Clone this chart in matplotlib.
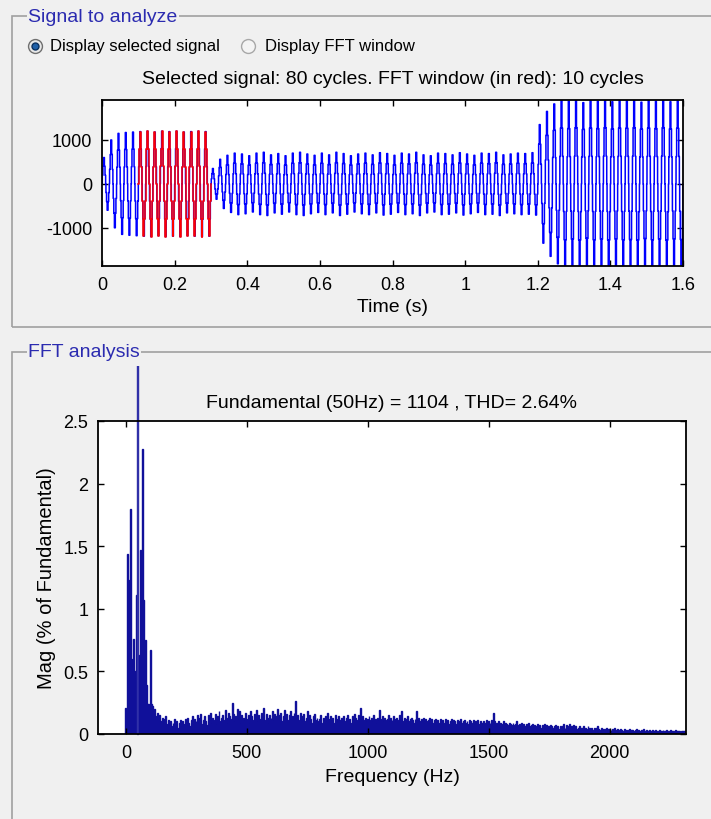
#set up modules
import numpy as np
import matplotlib
matplotlib.use('Agg')
import matplotlib.pyplot as plt
from matplotlib.patches import Rectangle
from matplotlib.lines import Line2D
from matplotlib.ticker import FormatStrFormatter
from matplotlib.transforms import Bbox, TransformedBbox

#----data----
#peak value of each of the 80 cycles of the selected signal (50 Hz, 1.6 s)
cycle_amp = [600, 1000, 1150, 1170, 1180,
             1190, 1200, 1180, 1200, 1190, 1200, 1180, 1190, 1200, 1190,
             350, 560, 650, 700, 680, 640, 700, 720, 660, 690,
             640, 700, 720, 680, 650, 700, 660, 720, 690, 640,
             680, 700, 660, 710, 690, 650, 700, 680, 720, 660,
             640, 700, 690, 660, 710, 680, 650, 700, 690, 720,
             660, 680, 700, 690, 710,
             1350, 1650, 1820, 1900, 1880, 1910, 1850, 1900, 1880, 1910,
             1870, 1900, 1890, 1910, 1860, 1900, 1880, 1910, 1870, 1890]
#one cycle of the stepped (multilevel) waveform, per unit
cycle_shape = [0, 0.33, 0.33, 0.67, 0.67, 1, 1, 1, 0.67, 0.67, 0.33, 0.33,
               0, -0.33, -0.33, -0.67, -0.67, -1, -1, -1, -0.67, -0.67, -0.33, -0.33]
fft_cycles = (5, 15)   # red window: cycles 5..14 (0.1 s to 0.3 s)

#FFT magnitude in % of fundamental, 5 Hz bins from 0 Hz
mag = [
    0.21, 1.44, 1.23, 0.78, 1.80, 0.60, 0.76, 0.50, 0.45, 1.11, 100, 0.63, 1.47, 0.80, 2.28, 1.07, 0.75, 0.39, 0.24, 0.24,
    0.67, 0.24, 0.22, 0.18, 0.20, 0.14, 0.17, 0.12, 0.15, 0.10, 0.13, 0.09, 0.12, 0.14, 0.08, 0.11, 0.07, 0.10, 0.06, 0.09,
    0.12, 0.08, 0.10, 0.05, 0.09, 0.11, 0.06, 0.10, 0.08, 0.12, 0.07, 0.13, 0.09, 0.06, 0.11, 0.14, 0.08, 0.12, 0.10, 0.15,
    0.09, 0.13, 0.16, 0.08, 0.11, 0.14, 0.10, 0.07, 0.15, 0.12, 0.17, 0.09, 0.13, 0.11, 0.16, 0.08, 0.14, 0.18, 0.10, 0.13,
    0.15, 0.11, 0.19, 0.13, 0.09, 0.17, 0.14, 0.12, 0.25, 0.16, 0.10, 0.14, 0.20, 0.12, 0.18, 0.09, 0.15, 0.13, 0.11, 0.17,
    0.12, 0.15, 0.09, 0.18, 0.14, 0.11, 0.16, 0.13, 0.19, 0.10, 0.15, 0.12, 0.17, 0.14, 0.21, 0.11, 0.16, 0.13, 0.09, 0.15,
    0.13, 0.18, 0.11, 0.16, 0.14, 0.20, 0.12, 0.15, 0.17, 0.10, 0.14, 0.19, 0.13, 0.16, 0.11, 0.15, 0.18, 0.12, 0.14, 0.17,
    0.26, 0.13, 0.15, 0.11, 0.17, 0.14, 0.12, 0.16, 0.10, 0.13, 0.18, 0.11, 0.15, 0.12, 0.09, 0.14, 0.16, 0.11, 0.13, 0.10,
    0.12, 0.15, 0.09, 0.13, 0.11, 0.14, 0.10, 0.17, 0.12, 0.14, 0.11, 0.13, 0.09, 0.15, 0.12, 0.10, 0.14, 0.11, 0.13, 0.12,
    0.14, 0.10, 0.13, 0.15, 0.11, 0.12, 0.09, 0.14, 0.12, 0.16, 0.13, 0.11, 0.15, 0.10, 0.21, 0.12, 0.14, 0.11, 0.13, 0.10,
    0.12, 0.14, 0.11, 0.13, 0.10, 0.15, 0.12, 0.09, 0.13, 0.11, 0.19, 0.12, 0.14, 0.10, 0.13, 0.11, 0.12, 0.15, 0.10, 0.13,
    0.11, 0.14, 0.12, 0.10, 0.13, 0.11, 0.15, 0.12, 0.18, 0.10, 0.13, 0.11, 0.12, 0.14, 0.10, 0.12, 0.13, 0.11, 0.09, 0.12,
    0.18, 0.11, 0.13, 0.10, 0.12, 0.11, 0.13, 0.09, 0.12, 0.10, 0.11, 0.13, 0.10, 0.12, 0.09, 0.11, 0.12, 0.10, 0.11, 0.09,
    0.12, 0.10, 0.11, 0.09, 0.12, 0.10, 0.11, 0.08, 0.10, 0.12, 0.09, 0.11, 0.10, 0.08, 0.11, 0.09, 0.10, 0.12, 0.09, 0.10,
    0.11, 0.09, 0.10, 0.08, 0.11, 0.10, 0.09, 0.11, 0.08, 0.10, 0.09, 0.11, 0.08, 0.10, 0.09, 0.08, 0.10, 0.09, 0.11, 0.08,
    0.10, 0.09, 0.11, 0.08, 0.17, 0.10, 0.09, 0.08, 0.10, 0.07, 0.09, 0.08, 0.10, 0.07, 0.09, 0.08, 0.07, 0.09, 0.08, 0.07,
    0.09, 0.07, 0.08, 0.10, 0.07, 0.08, 0.06, 0.09, 0.07, 0.08, 0.06, 0.08, 0.07, 0.09, 0.06, 0.07, 0.08, 0.06, 0.07, 0.06,
    0.08, 0.06, 0.07, 0.05, 0.07, 0.06, 0.08, 0.05, 0.07, 0.06, 0.05, 0.07, 0.06, 0.05, 0.06, 0.07, 0.05, 0.06, 0.04, 0.06,
    0.05, 0.06, 0.08, 0.05, 0.07, 0.06, 0.05, 0.08, 0.06, 0.05, 0.07, 0.05, 0.06, 0.04, 0.05, 0.06, 0.04, 0.05, 0.06, 0.04,
    0.05, 0.04, 0.06, 0.05, 0.04, 0.05, 0.03, 0.05, 0.04, 0.05, 0.06, 0.04, 0.03, 0.05, 0.04, 0.03, 0.04, 0.05, 0.03, 0.04,
    0.04, 0.03, 0.04, 0.03, 0.05, 0.03, 0.04, 0.02, 0.03, 0.04, 0.03, 0.02, 0.04, 0.03, 0.02, 0.03, 0.04, 0.02, 0.03, 0.03,
    0.02, 0.03, 0.04, 0.02, 0.03, 0.02, 0.03, 0.02, 0.04, 0.02, 0.03, 0.02, 0.02, 0.03, 0.02, 0.03, 0.02, 0.02, 0.03, 0.02,
    0.02, 0.03, 0.02, 0.02, 0.03, 0.02, 0.02, 0.03, 0.02, 0.02, 0.03, 0.02, 0.02, 0.02, 0.03, 0.02, 0.02, 0.02, 0.02, 0.02,
    0.02, 0.02, 0.02]
bin_hz = 5
fund_idx = 10

sig_title = 'Selected signal: 80 cycles. FFT window (in red): 10 cycles'
fft_title = 'Fundamental (50Hz) = 1104 , THD= 2.64%'

#----build the signal----
samples = len(cycle_shape)
fs = 50 * samples
sig = np.concatenate([a * np.array(cycle_shape) for a in cycle_amp])
sig = np.append(sig, 0.0)
t = np.arange(len(sig)) / fs
i0, i1 = fft_cycles[0] * samples, fft_cycles[1] * samples

#----figure----
plt.rcParams['font.family'] = ['Liberation Sans', 'DejaVu Sans']
plt.rcParams['axes.unicode_minus'] = False
bg = '#F0F0F0'
W, H = 711, 820
fig = plt.figure(figsize=(W / 100, H / 100), dpi=100, facecolor=bg)

def fx(px):
    return px / W

def fy(py):
    return 1 - py / H

#panel frames
for top, bottom in ((17, 328), (353, 830)):
    fig.add_artist(Rectangle((fx(12), fy(bottom)), fx(720) - fx(12), fy(top) - fy(bottom),
                             transform=fig.transFigure, fill=False, edgecolor='#A0A0A0', lw=1.2))
fig.text(fx(28), fy(17), 'Signal to analyze', color='#2B2BB0', fontsize=14, va='center', ha='left',
         bbox=dict(facecolor=bg, edgecolor='none', pad=1))
fig.text(fx(28), fy(353), 'FFT analysis', color='#2B2BB0', fontsize=14, va='center', ha='left',
         bbox=dict(facecolor=bg, edgecolor='none', pad=1))

#radio buttons
fig.add_artist(Line2D([fx(35)], [fy(47)], marker='o', markersize=10, markerfacecolor='#E8E8E8',
                      markeredgecolor='#707070', transform=fig.transFigure))
fig.add_artist(Line2D([fx(35)], [fy(47)], marker='o', markersize=5, markerfacecolor='#1E5FA8',
                      markeredgecolor='#0A3060', transform=fig.transFigure))
fig.add_artist(Line2D([fx(248)], [fy(47)], marker='o', markersize=10, markerfacecolor='#F4F4F4',
                      markeredgecolor='#A8A8A8', transform=fig.transFigure))
fig.text(fx(50), fy(47), 'Display selected signal', fontsize=12, va='center')
fig.text(fx(265), fy(47), 'Display FFT window', fontsize=12, va='center')

def style_axes(ax):
    ax.set_facecolor('white')
    ax.tick_params(direction='in', length=4, width=1, top=True, right=True,
                   labelsize=13, pad=7)
    for s in ax.spines.values():
        s.set_linewidth(1.3)

#signal axes
ax1 = fig.add_axes([fx(102), fy(267), fx(683) - fx(102), fy(101) - fy(267)])
ax1.plot(t, sig, color='blue', lw=1.1, drawstyle='steps-post')
ax1.plot(t[i0:i1 + 1], sig[i0:i1 + 1], color='red', lw=1.1, drawstyle='steps-post')
ax1.set_xlim(0, 1.6)
ax1.set_ylim(-1870, 1910)
ax1.set_xticks(np.arange(0, 1.61, 0.2))
ax1.set_yticks([-1000, 0, 1000])
ax1.xaxis.set_major_formatter(FormatStrFormatter('%g'))
ax1.set_xlabel('Time (s)', fontsize=14, labelpad=4)
ax1.set_title(sig_title, fontsize=14, pad=12)
style_axes(ax1)

#FFT axes
ax2 = fig.add_axes([fx(98), fy(735), fx(686) - fx(98), fy(422) - fy(735)])
freqs = np.arange(len(mag)) * bin_hz
bars = ax2.bar(freqs, mag, width=0.8 * bin_hz, color='#000090', edgecolor='#10109A', lw=1.0)
fund = bars.patches[fund_idx]
fund.set_facecolor('#3030A8')
fund.set_edgecolor('#3030A8')
fund.set_clip_box(TransformedBbox(Bbox([[0, 0], [1, fy(367)]]), fig.transFigure))
ax2.set_xlim(-115, 2315)
ax2.set_ylim(0, 2.5)
ax2.set_xticks([0, 500, 1000, 1500, 2000])
ax2.set_yticks([0, 0.5, 1, 1.5, 2, 2.5])
ax2.yaxis.set_major_formatter(FormatStrFormatter('%g'))
ax2.set_xlabel('Frequency (Hz)', fontsize=14, labelpad=5)
ax2.set_ylabel('Mag (% of Fundamental)', fontsize=14.5, labelpad=5)
ax2.set_title(fft_title, fontsize=14, pad=10)
style_axes(ax2)

plt.savefig('out.png', dpi=100, facecolor=bg)
